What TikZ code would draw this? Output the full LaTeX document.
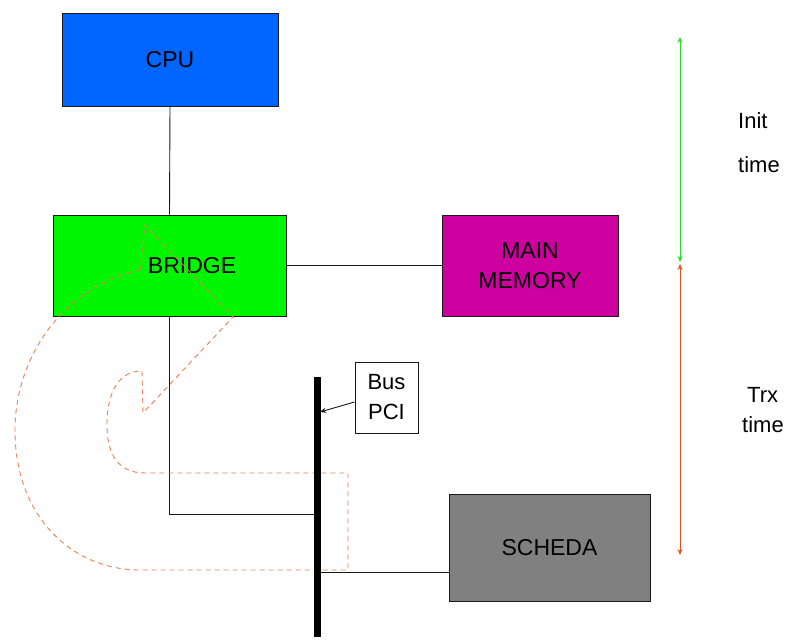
\documentclass[tikz,border=0pt]{standalone}
\usepackage{fontspec}
\setmainfont{Liberation Sans}
\usetikzlibrary{arrows.meta}
\definecolor{cpublue}{RGB}{0,102,255}
\definecolor{brgreen}{RGB}{0,245,0}
\definecolor{memmag}{RGB}{206,0,160}
\definecolor{schgray}{RGB}{128,128,128}
\definecolor{salmon}{RGB}{232,128,88}
\definecolor{initgreen}{RGB}{40,220,40}
\definecolor{trxred}{RGB}{222,84,30}
\begin{document}
\begin{tikzpicture}[x=1pt,y=-1pt,
  box/.style={draw=black!90, line width=0.9pt, inner sep=0pt, align=center,
    font=\fontsize{23}{30}\selectfont},
  wire/.style={draw=black!90, line width=0.9pt},
  sidelbl/.style={anchor=base west, inner sep=0pt, font=\fontsize{22}{25}\selectfont},
  flow/.style={draw=salmon, line width=0.9pt, dash pattern=on 5pt off 4pt},
  tarrow/.style={line width=0.9pt, {Stealth[length=6pt,width=5pt]}-{Stealth[length=6pt,width=5pt]}}
]
\useasboundingbox (0,0) rectangle (795,642);

% boxes
\node[box, fill=cpublue, minimum width=216pt, minimum height=93pt] (cpu) at (170,59.5) {CPU};
\node[box, fill=brgreen, minimum width=233pt, minimum height=101pt] (bridge) at (169.5,265.5) {\hspace*{45pt}BRIDGE};
\node[box, fill=memmag, minimum width=176pt, minimum height=101pt] (mem) at (530,265.5) {MAIN\\MEMORY};
\node[box, fill=schgray, minimum width=201pt, minimum height=107pt] (scheda) at (549.5,547.5) {SCHEDA};

% bus coordinates
\coordinate (bustop) at (317,377);
\coordinate (busbot) at (317,637);
\coordinate (busA) at (317,514);
\coordinate (busB) at (317,572);
\coordinate (busarr) at (320,412);

% wires
\draw[wire] (cpu.south) -- (bridge.north);
\draw[wire] (bridge.east) -- (mem.west);
\draw[wire] (bridge.south) |- (busA);
\draw[wire] (busB) -- (busB -| scheda.west);

% dashed flow outline
\draw[flow] (140,270) .. controls (60,288) and (15,360) .. (15,430)
  .. controls (15,520) and (75,570) .. (140,570) -- (348,570) -- (348,473) -- (145,473)
  .. controls (115,473) and (107,450) .. (107,425)
  .. controls (107,390) and (120,371) .. (142,371) -- (143,413) -- (233,317) -- (145,225) -- cycle;

% bus
\draw[line width=7pt] (bustop) -- (busbot);

% bus label
\node[box, fill=white, minimum width=63pt, minimum height=71pt, font=\fontsize{22}{30}\selectfont] (buslbl) at (386.5,397.5) {Bus\\PCI};
\draw[wire, -{Stealth[length=6pt,width=5pt]}] ([yshift=-4.5pt]buslbl.west) -- (busarr);

% time arrows
\coordinate (t0) at (680,37);
\coordinate (t1) at (680,262);
\coordinate (t2) at (680,264);
\coordinate (t3) at (680,555);
\draw[tarrow, initgreen] (t0) -- (t1);
\draw[tarrow, trxred] (t2) -- (t3);

% side labels
\node[sidelbl] (init) at (738,128) {Init};
\node[sidelbl] (itime) at (738,172) {time};
\node[sidelbl] (trx) at (747,402) {Trx};
\node[sidelbl] (ttime) at (742,432) {time};
\end{tikzpicture}
\end{document}
